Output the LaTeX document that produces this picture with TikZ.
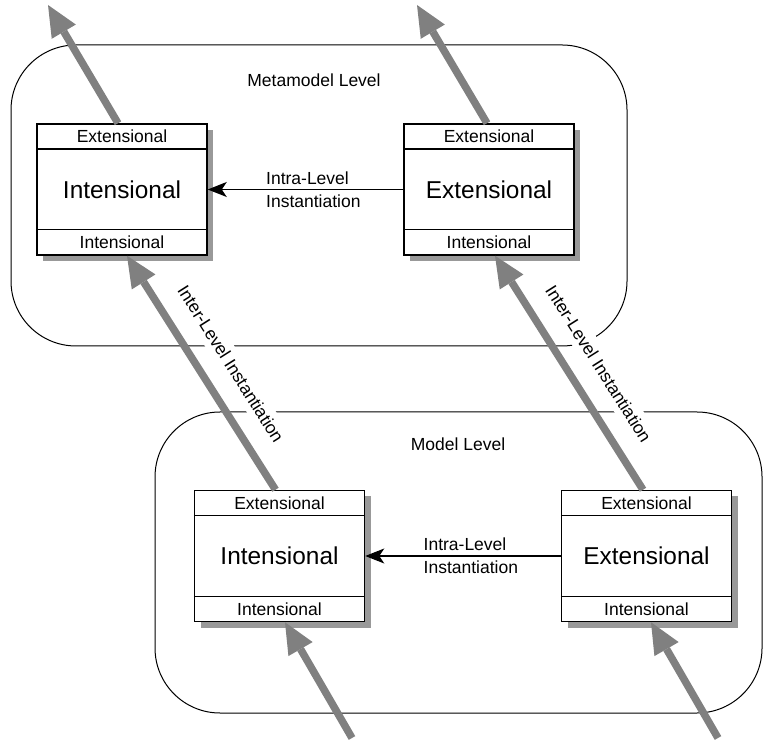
\documentclass[tikz,border=0pt]{standalone}
\usepackage{fontspec}
\setmainfont{Liberation Sans}
\usetikzlibrary{arrows.meta,positioning,shadows}

\definecolor{instgray}{RGB}{128,128,128}
\definecolor{shadowgray}{RGB}{153,153,153}
\newcommand{\partfont}{\fontsize{8.75}{11.5}\selectfont}
\newcommand{\classfont}{\fontsize{12.2}{14}\selectfont}

\begin{document}
\begin{tikzpicture}[x=0.5pt, y=0.5pt,
    classbox/.style={draw, line width=0.75pt, fill=white, minimum width=85pt,
        minimum height=65.5pt, inner sep=0pt, font=\classfont,
        drop shadow={shadow xshift=3pt, shadow yshift=-3pt, fill=shadowgray, opacity=1}},
    part/.style={font=\partfont, inner sep=0pt},
    level/.style={line width=0.5pt, rounded corners=32.5pt},
    inter/.style={color=instgray, line width=3.75pt,
        -{Triangle[length=15.5pt, width=14pt, line width=0pt]}},
    intra/.style={line width=0.6pt, -{Stealth[length=9.5pt, width=7.5pt, inset=2.5pt]}},
    intralabel/.style={font=\partfont, align=left, inner sep=0pt},
    interlabel/.style={font=\partfont, text=black, sloped, above=6.8pt, fill=white,
        inner xsep=1pt, inner ysep=3pt}]
    \useasboundingbox (0,0) rectangle (763,743);

    % Levels
    \draw[level] (11,397) rectangle (627,698);
    \draw[level] (155,30) rectangle (762,331);
    \node[part] (metaname) at (314,663) {Metamodel Level};
    \node[part] (modelname) at (458,299) {Model Level};

    % Metamodel level classes
    \node[classbox] (ul) at (122,553.5) {Intensional};
    \draw[line width=0.75pt] ([yshift=-13pt]ul.north west) -- ([yshift=-13pt]ul.north east);
    \draw[line width=0.75pt] ([yshift=13pt]ul.south west) -- ([yshift=13pt]ul.south east);
    \node[part] (ulext) at ([yshift=-6.5pt]ul.north) {Extensional};
    \node[part] (ulint) at ([yshift=6.5pt]ul.south) {Intensional};

    \node[classbox] (ur) at (489,553.5) {Extensional};
    \draw[line width=0.75pt] ([yshift=-13pt]ur.north west) -- ([yshift=-13pt]ur.north east);
    \draw[line width=0.75pt] ([yshift=13pt]ur.south west) -- ([yshift=13pt]ur.south east);
    \node[part] (urext) at ([yshift=-6.5pt]ur.north) {Extensional};
    \node[part] (urint) at ([yshift=6.5pt]ur.south) {Intensional};

    % Model level classes
    \node[classbox] (ll) at (279.5,187) {Intensional};
    \draw[line width=0.75pt] ([yshift=-13pt]ll.north west) -- ([yshift=-13pt]ll.north east);
    \draw[line width=0.75pt] ([yshift=13pt]ll.south west) -- ([yshift=13pt]ll.south east);
    \node[part] (llext) at ([yshift=-6.5pt]ll.north) {Extensional};
    \node[part] (llint) at ([yshift=6.5pt]ll.south) {Intensional};

    \node[classbox] (lr) at (646.5,187) {Extensional};
    \draw[line width=0.75pt] ([yshift=-13pt]lr.north west) -- ([yshift=-13pt]lr.north east);
    \draw[line width=0.75pt] ([yshift=13pt]lr.south west) -- ([yshift=13pt]lr.south east);
    \node[part] (lrext) at ([yshift=-6.5pt]lr.north) {Extensional};
    \node[part] (lrint) at ([yshift=6.5pt]lr.south) {Intensional};

    % Intra-level instantiation
    \draw[intra] (ur.west) -- (ul.east);
    \node[intralabel, right=29pt of ul.east] (upintra) {Intra-Level\\Instantiation};
    \draw[intra] (lr.west) -- (ll.east);
    \node[intralabel, right=29pt of ll.east] (lowintra) {Intra-Level\\Instantiation};

    % Inter-level instantiation
    \draw[inter] ([xshift=-2pt]ll.north) -- ([xshift=2.5pt]ul.south)
        node[interlabel, pos=0.47] (leftinter) {Inter-Level Instantiation};
    \draw[inter] ([xshift=-1.75pt]lr.north) -- ([xshift=3pt]ur.south)
        node[interlabel, pos=0.47] (rightinter) {Inter-Level Instantiation};

    \coordinate (ultip) at (48,738);
    \coordinate (urtip) at (417,738);
    \coordinate (llsrc) at (352,5);
    \coordinate (lrsrc) at (718,5);
    \draw[inter] ([xshift=-2pt]ul.north) -- (ultip);
    \draw[inter] ([xshift=-1pt]ur.north) -- (urtip);
    \draw[inter] (llsrc) -- ([xshift=2.75pt]ll.south);
    \draw[inter] (lrsrc) -- ([xshift=2.25pt]lr.south);
\end{tikzpicture}
\end{document}
